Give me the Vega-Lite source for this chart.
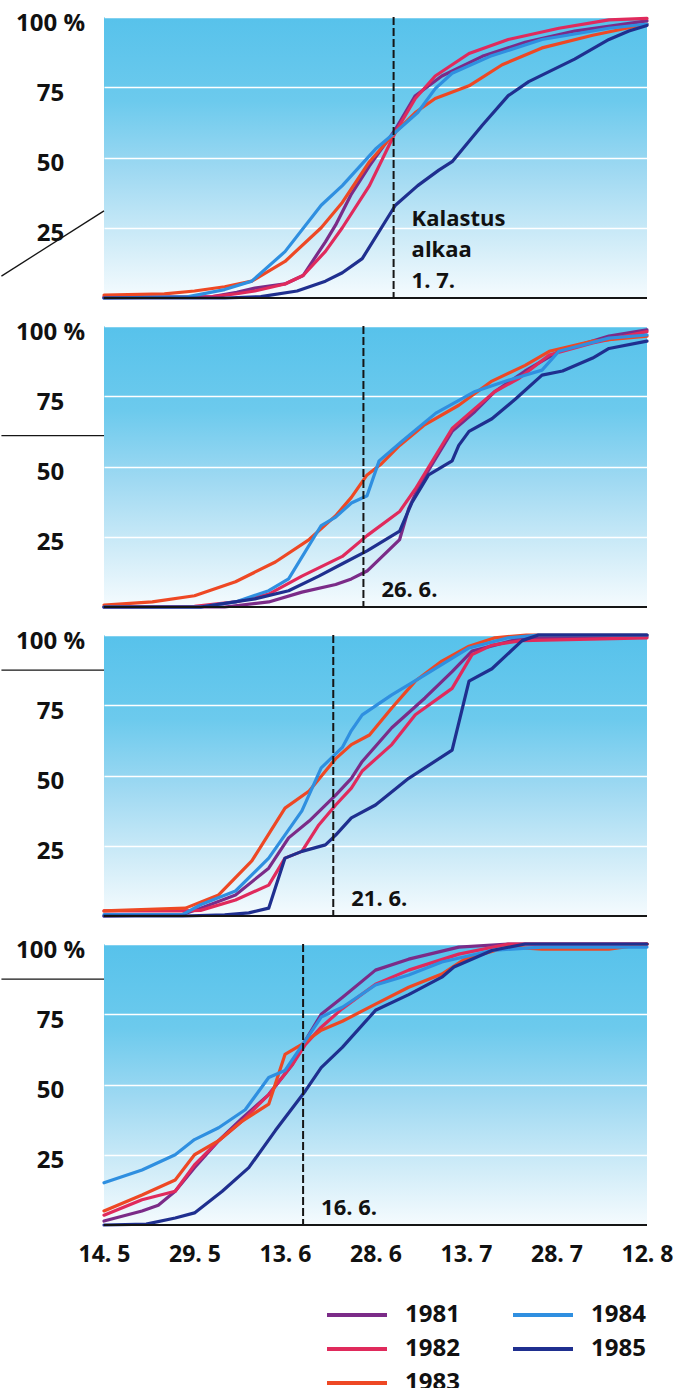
{
  "$schema": "https://vega.github.io/schema/vega-lite/v6.json",
  "padding": {"left": 0, "top": 11, "right": 0, "bottom": 0},
  "data": {"values": [
    {"panel":1,"year":"1981","day":0,"pct":0.3},{"panel":1,"year":"1981","day":10,"pct":0.3},{"panel":1,"year":"1981","day":18,"pct":0.5},{"panel":1,"year":"1981","day":22,"pct":2},{"panel":1,"year":"1981","day":25,"pct":3.5},{"panel":1,"year":"1981","day":30,"pct":5},{"panel":1,"year":"1981","day":33,"pct":8},{"panel":1,"year":"1981","day":36.7,"pct":20},{"panel":1,"year":"1981","day":38.4,"pct":26},{"panel":1,"year":"1981","day":41,"pct":37},{"panel":1,"year":"1981","day":44,"pct":47},{"panel":1,"year":"1981","day":48.3,"pct":60},{"panel":1,"year":"1981","day":51.6,"pct":72},{"panel":1,"year":"1981","day":56,"pct":79},{"panel":1,"year":"1981","day":62.7,"pct":86},{"panel":1,"year":"1981","day":69.8,"pct":91},{"panel":1,"year":"1981","day":78,"pct":95},{"panel":1,"year":"1981","day":90,"pct":98.6},
    {"panel":1,"year":"1982","day":0,"pct":0.3},{"panel":1,"year":"1982","day":10,"pct":0.3},{"panel":1,"year":"1982","day":18,"pct":0.5},{"panel":1,"year":"1982","day":22,"pct":1.5},{"panel":1,"year":"1982","day":25,"pct":2.5},{"panel":1,"year":"1982","day":30,"pct":5},{"panel":1,"year":"1982","day":33,"pct":8},{"panel":1,"year":"1982","day":36.7,"pct":16.6},{"panel":1,"year":"1982","day":39.5,"pct":25},{"panel":1,"year":"1982","day":44,"pct":40},{"panel":1,"year":"1982","day":48.3,"pct":59},{"panel":1,"year":"1982","day":51.6,"pct":71},{"panel":1,"year":"1982","day":54.9,"pct":79},{"panel":1,"year":"1982","day":60.5,"pct":87},{"panel":1,"year":"1982","day":67,"pct":92},{"panel":1,"year":"1982","day":75.4,"pct":96},{"panel":1,"year":"1982","day":83.7,"pct":99},{"panel":1,"year":"1982","day":90,"pct":99.5},
    {"panel":1,"year":"1983","day":0,"pct":1},{"panel":1,"year":"1983","day":10,"pct":1.5},{"panel":1,"year":"1983","day":15,"pct":2.5},{"panel":1,"year":"1983","day":20,"pct":4},{"panel":1,"year":"1983","day":24.5,"pct":6},{"panel":1,"year":"1983","day":30,"pct":13},{"panel":1,"year":"1983","day":36,"pct":25},{"panel":1,"year":"1983","day":39.5,"pct":34},{"panel":1,"year":"1983","day":44,"pct":48.5},{"panel":1,"year":"1983","day":48.3,"pct":59},{"panel":1,"year":"1983","day":51.6,"pct":66},{"panel":1,"year":"1983","day":54.9,"pct":71},{"panel":1,"year":"1983","day":60.5,"pct":75.5},{"panel":1,"year":"1983","day":66,"pct":83},{"panel":1,"year":"1983","day":72.6,"pct":89},{"panel":1,"year":"1983","day":81,"pct":93.5},{"panel":1,"year":"1983","day":90,"pct":97.5},
    {"panel":1,"year":"1984","day":0,"pct":0},{"panel":1,"year":"1984","day":10,"pct":0.3},{"panel":1,"year":"1984","day":14,"pct":0.5},{"panel":1,"year":"1984","day":20,"pct":3},{"panel":1,"year":"1984","day":24.5,"pct":6},{"panel":1,"year":"1984","day":30,"pct":16.5},{"panel":1,"year":"1984","day":36,"pct":33},{"panel":1,"year":"1984","day":39.5,"pct":40},{"panel":1,"year":"1984","day":45,"pct":53},{"panel":1,"year":"1984","day":48.3,"pct":59},{"panel":1,"year":"1984","day":52,"pct":66},{"panel":1,"year":"1984","day":54.9,"pct":74.5},{"panel":1,"year":"1984","day":57.7,"pct":80},{"panel":1,"year":"1984","day":64,"pct":86},{"panel":1,"year":"1984","day":72.6,"pct":92},{"panel":1,"year":"1984","day":83.7,"pct":96},{"panel":1,"year":"1984","day":90,"pct":97.5},
    {"panel":1,"year":"1985","day":0,"pct":0},{"panel":1,"year":"1985","day":20,"pct":0},{"panel":1,"year":"1985","day":26,"pct":0.5},{"panel":1,"year":"1985","day":32,"pct":2.5},{"panel":1,"year":"1985","day":36.7,"pct":6},{"panel":1,"year":"1985","day":39.5,"pct":9},{"panel":1,"year":"1985","day":42.8,"pct":14},{"panel":1,"year":"1985","day":48.3,"pct":33},{"panel":1,"year":"1985","day":52,"pct":40},{"panel":1,"year":"1985","day":55.5,"pct":45.5},{"panel":1,"year":"1985","day":57.7,"pct":48.5},{"panel":1,"year":"1985","day":62.7,"pct":61.5},{"panel":1,"year":"1985","day":67,"pct":72},{"panel":1,"year":"1985","day":70.4,"pct":77},{"panel":1,"year":"1985","day":78,"pct":85},{"panel":1,"year":"1985","day":83.7,"pct":92},{"panel":1,"year":"1985","day":87,"pct":95},{"panel":1,"year":"1985","day":90,"pct":97},

    {"panel":2,"year":"1981","day":0,"pct":0},{"panel":2,"year":"1981","day":20,"pct":0},{"panel":2,"year":"1981","day":27.3,"pct":1.8},{"panel":2,"year":"1981","day":32.8,"pct":5.3},{"panel":2,"year":"1981","day":38.4,"pct":8},{"panel":2,"year":"1981","day":41,"pct":10},{"panel":2,"year":"1981","day":43.6,"pct":12.8},{"panel":2,"year":"1981","day":49,"pct":24},{"panel":2,"year":"1981","day":50.5,"pct":35},{"panel":2,"year":"1981","day":52.2,"pct":43},{"panel":2,"year":"1981","day":55,"pct":53},{"panel":2,"year":"1981","day":57.7,"pct":62.5},{"panel":2,"year":"1981","day":61.5,"pct":69.6},{"panel":2,"year":"1981","day":64.8,"pct":76.7},{"panel":2,"year":"1981","day":69.8,"pct":84},{"panel":2,"year":"1981","day":75.4,"pct":91},{"panel":2,"year":"1981","day":83.7,"pct":96.4},{"panel":2,"year":"1981","day":90,"pct":98.6},
    {"panel":2,"year":"1982","day":0,"pct":0},{"panel":2,"year":"1982","day":15,"pct":0.2},{"panel":2,"year":"1982","day":21.8,"pct":1.8},{"panel":2,"year":"1982","day":27.3,"pct":4.6},{"panel":2,"year":"1982","day":32.8,"pct":11},{"panel":2,"year":"1982","day":39.5,"pct":18},{"panel":2,"year":"1982","day":43.6,"pct":25.4},{"panel":2,"year":"1982","day":49,"pct":34},{"panel":2,"year":"1982","day":51.6,"pct":42},{"panel":2,"year":"1982","day":55,"pct":54},{"panel":2,"year":"1982","day":57.7,"pct":63.5},{"panel":2,"year":"1982","day":61.5,"pct":70.7},{"panel":2,"year":"1982","day":64.8,"pct":76.7},{"panel":2,"year":"1982","day":68.8,"pct":81.4},{"panel":2,"year":"1982","day":73.8,"pct":89.7},{"panel":2,"year":"1982","day":81,"pct":94},{"panel":2,"year":"1982","day":90,"pct":98},
    {"panel":2,"year":"1983","day":0,"pct":0.7},{"panel":2,"year":"1983","day":8,"pct":1.8},{"panel":2,"year":"1983","day":15,"pct":4},{"panel":2,"year":"1983","day":21.8,"pct":9},{"panel":2,"year":"1983","day":28.4,"pct":16},{"panel":2,"year":"1983","day":34,"pct":24},{"panel":2,"year":"1983","day":38.4,"pct":32.5},{"panel":2,"year":"1983","day":41,"pct":39},{"panel":2,"year":"1983","day":43.6,"pct":47},{"panel":2,"year":"1983","day":46,"pct":51},{"panel":2,"year":"1983","day":49,"pct":57.5},{"panel":2,"year":"1983","day":53,"pct":64.6},{"panel":2,"year":"1983","day":58.8,"pct":71.8},{"panel":2,"year":"1983","day":64.3,"pct":80.4},{"panel":2,"year":"1983","day":69.8,"pct":86},{"panel":2,"year":"1983","day":73.8,"pct":91},{"panel":2,"year":"1983","day":81,"pct":94.6},{"panel":2,"year":"1983","day":90,"pct":96.4},
    {"panel":2,"year":"1984","day":0,"pct":0},{"panel":2,"year":"1984","day":16,"pct":0},{"panel":2,"year":"1984","day":21.8,"pct":1.8},{"panel":2,"year":"1984","day":27.3,"pct":5.8},{"panel":2,"year":"1984","day":30.6,"pct":10},{"panel":2,"year":"1984","day":36,"pct":29},{"panel":2,"year":"1984","day":38.4,"pct":32},{"panel":2,"year":"1984","day":41,"pct":37},{"panel":2,"year":"1984","day":43.6,"pct":39.6},{"panel":2,"year":"1984","day":45.6,"pct":52},{"panel":2,"year":"1984","day":49.4,"pct":59},{"panel":2,"year":"1984","day":55,"pct":69},{"panel":2,"year":"1984","day":61.5,"pct":76.7},{"panel":2,"year":"1984","day":67,"pct":80.7},{"panel":2,"year":"1984","day":72.6,"pct":84.3},{"panel":2,"year":"1984","day":75.4,"pct":91},{"panel":2,"year":"1984","day":83.7,"pct":95.7},{"panel":2,"year":"1984","day":90,"pct":96.8},
    {"panel":2,"year":"1985","day":0,"pct":0},{"panel":2,"year":"1985","day":16,"pct":0},{"panel":2,"year":"1985","day":25,"pct":2.9},{"panel":2,"year":"1985","day":30.6,"pct":5.8},{"panel":2,"year":"1985","day":35.6,"pct":11},{"panel":2,"year":"1985","day":39.5,"pct":15.4},{"panel":2,"year":"1985","day":43.6,"pct":20},{"panel":2,"year":"1985","day":49,"pct":27},{"panel":2,"year":"1985","day":51,"pct":37},{"panel":2,"year":"1985","day":53.8,"pct":47},{"panel":2,"year":"1985","day":57.7,"pct":52},{"panel":2,"year":"1985","day":58.8,"pct":57.5},{"panel":2,"year":"1985","day":60.5,"pct":62.5},{"panel":2,"year":"1985","day":64.3,"pct":67},{"panel":2,"year":"1985","day":68.2,"pct":74},{"panel":2,"year":"1985","day":72.6,"pct":82.5},{"panel":2,"year":"1985","day":76,"pct":84},{"panel":2,"year":"1985","day":81,"pct":88.6},{"panel":2,"year":"1985","day":83.7,"pct":92},{"panel":2,"year":"1985","day":90,"pct":94.6},

    {"panel":3,"year":"1981","day":0,"pct":0},{"panel":3,"year":"1981","day":13,"pct":0.5},{"panel":3,"year":"1981","day":16,"pct":2.8},{"panel":3,"year":"1981","day":21.8,"pct":7.5},{"panel":3,"year":"1981","day":27.3,"pct":17},{"panel":3,"year":"1981","day":30.6,"pct":27.8},{"panel":3,"year":"1981","day":34,"pct":33.8},{"panel":3,"year":"1981","day":38.4,"pct":43},{"panel":3,"year":"1981","day":41,"pct":49},{"panel":3,"year":"1981","day":42.8,"pct":55},{"panel":3,"year":"1981","day":47.7,"pct":67},{"panel":3,"year":"1981","day":53.2,"pct":77.6},{"panel":3,"year":"1981","day":57.7,"pct":87},{"panel":3,"year":"1981","day":61,"pct":94.3},{"panel":3,"year":"1981","day":64.8,"pct":96.4},{"panel":3,"year":"1981","day":69.3,"pct":99},{"panel":3,"year":"1981","day":90,"pct":99.5},
    {"panel":3,"year":"1982","day":0,"pct":1.8},{"panel":3,"year":"1982","day":13,"pct":1.8},{"panel":3,"year":"1982","day":16,"pct":2},{"panel":3,"year":"1982","day":21.8,"pct":5.7},{"panel":3,"year":"1982","day":27.3,"pct":11},{"panel":3,"year":"1982","day":30,"pct":20.6},{"panel":3,"year":"1982","day":32.8,"pct":23},{"panel":3,"year":"1982","day":35.6,"pct":32.4},{"panel":3,"year":"1982","day":38.4,"pct":39.5},{"panel":3,"year":"1982","day":41,"pct":45.5},{"panel":3,"year":"1982","day":42.8,"pct":51.6},{"panel":3,"year":"1982","day":47.7,"pct":61},{"panel":3,"year":"1982","day":51.6,"pct":71.6},{"panel":3,"year":"1982","day":57.7,"pct":81},{"panel":3,"year":"1982","day":61,"pct":93},{"panel":3,"year":"1982","day":64.3,"pct":96.4},{"panel":3,"year":"1982","day":69.3,"pct":98},{"panel":3,"year":"1982","day":90,"pct":99},
    {"panel":3,"year":"1983","day":0,"pct":1.8},{"panel":3,"year":"1983","day":13.5,"pct":2.8},{"panel":3,"year":"1983","day":19,"pct":7.5},{"panel":3,"year":"1983","day":24.5,"pct":19.6},{"panel":3,"year":"1983","day":30,"pct":38.4},{"panel":3,"year":"1983","day":34,"pct":44.5},{"panel":3,"year":"1983","day":38.4,"pct":56},{"panel":3,"year":"1983","day":41,"pct":61},{"panel":3,"year":"1983","day":44,"pct":64.4},{"panel":3,"year":"1983","day":47.7,"pct":74},{"panel":3,"year":"1983","day":51.6,"pct":83.6},{"panel":3,"year":"1983","day":56,"pct":90.7},{"panel":3,"year":"1983","day":60.5,"pct":96},{"panel":3,"year":"1983","day":64.8,"pct":99},{"panel":3,"year":"1983","day":70,"pct":100},{"panel":3,"year":"1983","day":90,"pct":100},
    {"panel":3,"year":"1984","day":0,"pct":0.5},{"panel":3,"year":"1984","day":13,"pct":0.5},{"panel":3,"year":"1984","day":16,"pct":4},{"panel":3,"year":"1984","day":21.8,"pct":8.9},{"panel":3,"year":"1984","day":27.3,"pct":20.6},{"panel":3,"year":"1984","day":32.8,"pct":37.4},{"panel":3,"year":"1984","day":36,"pct":52.7},{"panel":3,"year":"1984","day":39.5,"pct":60},{"panel":3,"year":"1984","day":41,"pct":66},{"panel":3,"year":"1984","day":42.8,"pct":71.6},{"panel":3,"year":"1984","day":47.7,"pct":78.7},{"panel":3,"year":"1984","day":53.2,"pct":85.8},{"panel":3,"year":"1984","day":60.5,"pct":95.4},{"panel":3,"year":"1984","day":67,"pct":99},{"panel":3,"year":"1984","day":72,"pct":100},{"panel":3,"year":"1984","day":90,"pct":100},
    {"panel":3,"year":"1985","day":0,"pct":0},{"panel":3,"year":"1985","day":13,"pct":0},{"panel":3,"year":"1985","day":20,"pct":0.4},{"panel":3,"year":"1985","day":24,"pct":1.1},{"panel":3,"year":"1985","day":27.3,"pct":2.8},{"panel":3,"year":"1985","day":30,"pct":20.6},{"panel":3,"year":"1985","day":32.8,"pct":23},{"panel":3,"year":"1985","day":36.7,"pct":25.3},{"panel":3,"year":"1985","day":38.4,"pct":28.8},{"panel":3,"year":"1985","day":41,"pct":34.9},{"panel":3,"year":"1985","day":45,"pct":39.5},{"panel":3,"year":"1985","day":50.5,"pct":49},{"panel":3,"year":"1985","day":57.7,"pct":59},{"panel":3,"year":"1985","day":60.5,"pct":83.6},{"panel":3,"year":"1985","day":64.3,"pct":88},{"panel":3,"year":"1985","day":69.3,"pct":98},{"panel":3,"year":"1985","day":72,"pct":100},{"panel":3,"year":"1985","day":90,"pct":100},

    {"panel":4,"year":"1981","day":0,"pct":1.4},{"panel":4,"year":"1981","day":6.3,"pct":5},{"panel":4,"year":"1981","day":9,"pct":7},{"panel":4,"year":"1981","day":11.8,"pct":12},{"panel":4,"year":"1981","day":15,"pct":20.4},{"panel":4,"year":"1981","day":19,"pct":30},{"panel":4,"year":"1981","day":22.9,"pct":38},{"panel":4,"year":"1981","day":27.3,"pct":46.4},{"panel":4,"year":"1981","day":31.2,"pct":57},{"panel":4,"year":"1981","day":33.4,"pct":65.7},{"panel":4,"year":"1981","day":36,"pct":75},{"panel":4,"year":"1981","day":39.5,"pct":81},{"panel":4,"year":"1981","day":45,"pct":90.7},{"panel":4,"year":"1981","day":50.5,"pct":94.6},{"panel":4,"year":"1981","day":58.8,"pct":98.9},{"panel":4,"year":"1981","day":67,"pct":100},{"panel":4,"year":"1981","day":90,"pct":100},
    {"panel":4,"year":"1982","day":0,"pct":3.5},{"panel":4,"year":"1982","day":6.3,"pct":9},{"panel":4,"year":"1982","day":11.8,"pct":12},{"panel":4,"year":"1982","day":15,"pct":21.4},{"panel":4,"year":"1982","day":19,"pct":30},{"panel":4,"year":"1982","day":22.9,"pct":37},{"panel":4,"year":"1982","day":27.3,"pct":46.4},{"panel":4,"year":"1982","day":31.2,"pct":57},{"panel":4,"year":"1982","day":33.4,"pct":64.3},{"panel":4,"year":"1982","day":36,"pct":70.4},{"panel":4,"year":"1982","day":39.5,"pct":77},{"panel":4,"year":"1982","day":45,"pct":85.7},{"panel":4,"year":"1982","day":50.5,"pct":90.7},{"panel":4,"year":"1982","day":58.8,"pct":96.4},{"panel":4,"year":"1982","day":67,"pct":100},{"panel":4,"year":"1982","day":90,"pct":100},
    {"panel":4,"year":"1983","day":0,"pct":5},{"panel":4,"year":"1983","day":6.3,"pct":10.7},{"panel":4,"year":"1983","day":11.8,"pct":16},{"panel":4,"year":"1983","day":15,"pct":25},{"panel":4,"year":"1983","day":19,"pct":30},{"panel":4,"year":"1983","day":22.9,"pct":37},{"panel":4,"year":"1983","day":27.3,"pct":43},{"panel":4,"year":"1983","day":30,"pct":60.7},{"panel":4,"year":"1983","day":32.8,"pct":64.3},{"panel":4,"year":"1983","day":36,"pct":69.3},{"panel":4,"year":"1983","day":39.5,"pct":72.5},{"panel":4,"year":"1983","day":45,"pct":78.6},{"panel":4,"year":"1983","day":50.5,"pct":84.6},{"panel":4,"year":"1983","day":56,"pct":89.3},{"panel":4,"year":"1983","day":59.8,"pct":94.6},{"panel":4,"year":"1983","day":67,"pct":99},{"panel":4,"year":"1983","day":72.6,"pct":98.2},{"panel":4,"year":"1983","day":83.7,"pct":98.2},{"panel":4,"year":"1983","day":90,"pct":100},
    {"panel":4,"year":"1984","day":0,"pct":15},{"panel":4,"year":"1984","day":6.3,"pct":19.6},{"panel":4,"year":"1984","day":11.8,"pct":25},{"panel":4,"year":"1984","day":15,"pct":30.4},{"panel":4,"year":"1984","day":19,"pct":34.6},{"panel":4,"year":"1984","day":23.4,"pct":41},{"panel":4,"year":"1984","day":27.3,"pct":52.5},{"panel":4,"year":"1984","day":30,"pct":55},{"panel":4,"year":"1984","day":33.4,"pct":65.7},{"panel":4,"year":"1984","day":36,"pct":74},{"panel":4,"year":"1984","day":39.5,"pct":77.5},{"panel":4,"year":"1984","day":45,"pct":85.4},{"panel":4,"year":"1984","day":50.5,"pct":89},{"panel":4,"year":"1984","day":56,"pct":93.6},{"panel":4,"year":"1984","day":64.3,"pct":97.7},{"panel":4,"year":"1984","day":72.6,"pct":98.9},{"panel":4,"year":"1984","day":90,"pct":98.9},
    {"panel":4,"year":"1985","day":0,"pct":0},{"panel":4,"year":"1985","day":7,"pct":0.3},{"panel":4,"year":"1985","day":11.8,"pct":2.5},{"panel":4,"year":"1985","day":15,"pct":4.3},{"panel":4,"year":"1985","day":19.6,"pct":12},{"panel":4,"year":"1985","day":24,"pct":20.4},{"panel":4,"year":"1985","day":28.4,"pct":33.6},{"panel":4,"year":"1985","day":33.4,"pct":47.8},{"panel":4,"year":"1985","day":36,"pct":56},{"panel":4,"year":"1985","day":39.5,"pct":63.2},{"panel":4,"year":"1985","day":45,"pct":76.4},{"panel":4,"year":"1985","day":50.5,"pct":82},{"panel":4,"year":"1985","day":56,"pct":88.2},{"panel":4,"year":"1985","day":58,"pct":91.8},{"panel":4,"year":"1985","day":64.3,"pct":97.7},{"panel":4,"year":"1985","day":69.8,"pct":100},{"panel":4,"year":"1985","day":90,"pct":100},

    {"panel":1,"start":48,"label":"Kalastus\nalkaa\n1. 7."},
    {"panel":2,"start":43,"label":"26. 6."},
    {"panel":3,"start":38,"label":"21. 6."},
    {"panel":4,"start":33,"label":"16. 6."},

    {"panel":1,"link":-17,"linkpct":7.8,"link2":0,"linkpct2":31},
    {"panel":2,"link":-17,"linkpct":61,"link2":0,"linkpct2":61},
    {"panel":3,"link":-17,"linkpct":87.5,"link2":0,"linkpct2":87.5},
    {"panel":4,"link":-17,"linkpct":87.5,"link2":0,"linkpct2":87.5}
  ]},
  "facet": {"row": {"field": "panel", "type": "ordinal", "header": {"labels": false, "title": null}}},
  "spacing": {"row": 28},
  "bounds": "flush",
  "spec": {
    "width": 543,
    "height": 281,
    "layer": [
      {
        "transform": [{"filter": {"field": "year", "valid": true}}],
        "mark": {"type": "line", "strokeWidth": 3.2, "strokeJoin": "round", "strokeCap": "round"},
        "encoding": {
          "x": {"field": "day", "type": "quantitative", "title": null,
                "scale": {"domain": [0, 90], "nice": false, "zero": false},
                "axis": {"title": null, "values": [0, 15, 30, 45, 60, 75, 90],
                         "labelExpr": "utcFormat(utc(1985, 4, 14 + datum.value), '%-d. %-m')"}},
          "y": {"field": "pct", "type": "quantitative", "title": null,
                "scale": {"domain": [0, 100], "nice": false, "zero": false},
                "axis": {"title": null, "values": [25, 50, 75, 100],
                         "labelExpr": "datum.value == 100 ? '100 %' : datum.label"}},
          "color": {"field": "year", "type": "nominal",
                    "scale": {"domain": ["1981", "1982", "1983", "1984", "1985"],
                              "range": ["#7b2b88", "#e02a5c", "#ee4824", "#2f8fe0", "#1f2f8f"]},
                    "legend": {"title": null}}
        }
      },
      {
        "transform": [{"filter": {"field": "start", "valid": true}}],
        "mark": {"type": "rule", "strokeDash": [8, 3], "strokeWidth": 2, "color": "#151515"},
        "encoding": {
          "x": {"field": "start", "type": "quantitative", "title": null}
        }
      },
      {
        "transform": [{"filter": {"field": "start", "valid": true}}],
        "mark": {"type": "rule", "strokeWidth": 2.2, "color": "#151515"},
        "encoding": {
          "y": {"datum": 0, "type": "quantitative", "title": null}
        }
      },
      {
        "transform": [{"filter": {"field": "start", "valid": true}}, {"filter": "indexof(datum.label, '\\n') < 0"}],
        "mark": {"type": "text", "align": "left", "baseline": "alphabetic", "dx": 18, "dy": -10,
                 "font": "Open Sans", "fontSize": 22, "fontWeight": "bold", "color": "#111111"},
        "encoding": {
          "x": {"field": "start", "type": "quantitative", "title": null},
          "y": {"datum": 0, "type": "quantitative", "title": null},
          "text": {"field": "label"}
        }
      },
      {
        "transform": [{"filter": {"field": "start", "valid": true}}, {"filter": "indexof(datum.label, '\\n') >= 0"}],
        "mark": {"type": "text", "align": "left", "baseline": "alphabetic", "dx": 18, "dy": -72,
                 "lineBreak": "\n", "lineHeight": 31, "font": "Open Sans", "fontSize": 22, "fontWeight": "bold", "color": "#111111"},
        "encoding": {
          "x": {"field": "start", "type": "quantitative", "title": null},
          "y": {"datum": 0, "type": "quantitative", "title": null},
          "text": {"field": "label"}
        }
      },
      {
        "transform": [{"filter": {"field": "link", "valid": true}}],
        "mark": {"type": "rule", "strokeWidth": 1.3, "color": "#151515"},
        "encoding": {
          "x": {"field": "link", "type": "quantitative", "title": null},
          "x2": {"field": "link2"},
          "y": {"field": "linkpct", "type": "quantitative", "title": null},
          "y2": {"field": "linkpct2"}
        }
      }
    ]
  },
  "config": {
    "font": "Open Sans",
    "view": {
      "stroke": null,
      "fill": {"gradient": "linear", "x1": 0, "y1": 0, "x2": 0, "y2": 1,
               "stops": [{"offset": 0, "color": "#57c2eb"}, {"offset": 0.3, "color": "#6ccaed"},
                         {"offset": 0.55, "color": "#9fd9f2"}, {"offset": 0.8, "color": "#d0ecf8"},
                         {"offset": 1, "color": "#f5fbfe"}]}
    },
    "axisX": {"domain": false, "ticks": false, "tickSize": 0, "grid": false, "labelPadding": 18,
              "labelFont": "Open Sans", "labelFontSize": 23, "labelFontWeight": "bold", "labelColor": "#111111",
              "labelFlush": false, "labelOverlap": false},
    "axisY": {"domain": true, "domainColor": "#555555", "domainWidth": 1, "ticks": false, "tickSize": 0,
              "grid": true, "gridColor": "#ffffff", "gridWidth": 1.5, "labelPadding": 54, "labelAlign": "center", "labelBaseline": "middle",
              "labelOffset": 6, "labelFont": "Open Sans", "labelFontSize": 24, "labelFontWeight": "bold",
              "labelColor": "#111111", "labelFlush": false, "labelOverlap": false},
    "legend": {"orient": "none", "legendX": 236, "legendY": 1281, "columns": 2, "symbolType": "M-2,0H2",
               "symbolStrokeWidth": 4, "symbolSize": 900, "labelFont": "Open Sans", "labelFontSize": 24,
               "labelFontWeight": "bold", "labelColor": "#111111", "rowPadding": 5, "columnPadding": 45,
               "labelOffset": 31, "labelLimit": 0}
  }
}
